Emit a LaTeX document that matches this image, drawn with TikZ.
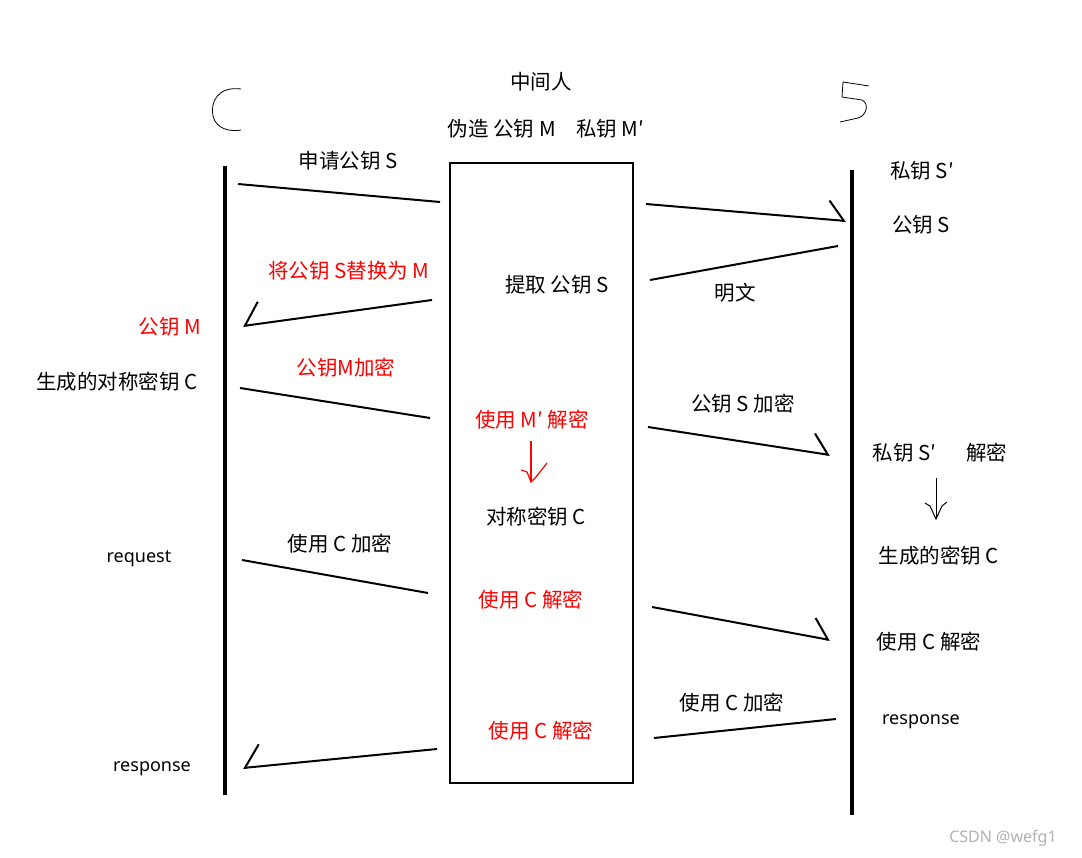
\documentclass[tikz,border=0pt]{standalone}
\usepackage{fontspec}
\setmainfont{Noto Sans CJK SC}
\newfontfamily\latinfont{Noto Sans}
\usetikzlibrary{arrows.meta}

\tikzset{
  lbl/.style={font=\fontsize{20.5}{24}\selectfont, inner sep=0pt},
  redlbl/.style={lbl, text=red},
  small/.style={font=\latinfont\fontsize{18}{21}\selectfont, inner sep=0pt},
  msg/.style={line width=2pt},
  msgto/.style={msg, -{Straight Barb[harpoon,length=16pt,width=38pt,line width=2pt]}},
  msgback/.style={msg, -{Straight Barb[harpoon,swap,length=16pt,width=44pt,line width=2pt]}},
  life/.style={line width=4.5pt},
}

\begin{document}
\begin{tikzpicture}[x=1pt, y=-1pt]
    \useasboundingbox (0,0) rectangle (1082,858);
    \fill[white] (0,0) rectangle (1082,858);

    % --- hand-drawn party letters ---
    \draw[line width=0.8pt] (241,89) .. controls (218,86) and (210,102) .. (213,116)
        .. controls (216,129) and (230,132) .. (241,130);
    \draw[line width=0.8pt] (869,86) -- (843,82) -- (842,97) -- (862,100)
        .. controls (870,104) and (866,116) .. (858,118) -- (840,122);

    % --- lifelines ---
    \draw[life] (225,166) coordinate (ctop) -- (225,795) coordinate (cbot);
    \draw[life] (852,170) coordinate (stop) -- (852,815) coordinate (sbot);

    % --- middle man box ---
    \node[draw, line width=2.5pt, minimum width=183pt, minimum height=620pt,
          inner sep=0pt] (mitm) at (541.5,473) {};
    \node[lbl] (mtitle) at (541,82) {中间人};
    \node[lbl] (mkeys) at (546,129) {伪造\ 公钥 M\quad 私钥 M′};

    % --- request the public key ---
    \node[lbl] (ask) at (348,161) {申请公钥 S};
    \coordinate (a1) at (238,184);
    \coordinate (a2) at (440,202);
    \draw[msg] (a1) -- (a2);
    \coordinate (b1) at (646,204);
    \coordinate (b2) at (846,221);
    \draw[msgto] (b1) -- (b2);
    \node[lbl] (sprv) at (922,171) {私钥 S′};
    \node[lbl] (spub) at (921,225) {公钥 S};

    % --- server answers, key gets swapped ---
    \coordinate (d1) at (838,246);
    \coordinate (d2) at (650,280);
    \draw[msg] (d1) -- (d2);
    \node[lbl] (take) at (557,285) {提取\ 公钥 S};
    \node[lbl] (plain) at (735,293) {明文};
    \node[redlbl] (swap) at (349,271) {将公钥 S替换为 M};
    \coordinate (e1) at (432,300);
    \coordinate (e2) at (243,326);
    \draw[msgback] (e1) -- (e2);
    \node[redlbl] (cpub) at (170,327) {公钥 M};

    % --- client sends the session key ---
    \node[redlbl] (encm) at (346,368) {公钥M加密};
    \node[lbl] (gen) at (117,382) {生成的对称密钥 C};
    \coordinate (f1) at (240,388);
    \coordinate (f2) at (430,418);
    \draw[msg] (f1) -- (f2);
    \node[redlbl] (decm) at (532,420) {使用 M′ 解密};
    \node[lbl] (symk) at (536,517) {对称密钥 C};
    \draw[red, line width=1.2pt] (531,441) coordinate (r1) -- (531,482) coordinate (r2);
    \draw[red, line width=1.2pt] (521,470) -- (527,472) -- (531,482) -- (536,477) -- (547,463);
    \node[lbl] (encs) at (743,404) {公钥 S 加密};
    \coordinate (g1) at (648,427);
    \coordinate (g2) at (830,455);
    \draw[msgto] (g1) -- (g2);
    \node[lbl] (decs) at (940,453) {私钥 S′\quad\ \ 解密};
    \draw[line width=1pt] (936,478) coordinate (k1) -- (936,519) coordinate (k2);
    \draw[line width=1pt] (925,503) -- (930,506) -- (936,519) -- (942,506) -- (947,502);
    \node[lbl] (sgen) at (939,556) {生成的密钥 C};

    % --- request ---
    \node[small] (req) at (139,559) {request};
    \node[lbl] (encc) at (340,544) {使用 C 加密};
    \coordinate (h1) at (242,560);
    \coordinate (h2) at (428,593);
    \draw[msg] (h1) -- (h2);
    \node[redlbl] (decc) at (531,600) {使用 C 解密};
    \coordinate (i1) at (652,607);
    \coordinate (i2) at (830,640);
    \draw[msgto] (i1) -- (i2);
    \node[lbl] (sdec) at (929,642) {使用 C 解密};

    % --- response ---
    \node[lbl] (senc) at (732,703) {使用 C 加密};
    \node[small] (sresp) at (921,722) {response};
    \coordinate (j1) at (836,719);
    \coordinate (j2) at (654,738);
    \draw[msg] (j1) -- (j2);
    \node[redlbl] (mdec) at (541,731) {使用 C 解密};
    \coordinate (l1) at (437,749);
    \coordinate (l2) at (243,768);
    \draw[msgback] (l1) -- (l2);
    \node[small] (cresp) at (152,769) {response};

    % watermark
    \node[font=\latinfont\fontsize{16}{19}\selectfont, text=gray!60, inner sep=0pt] (wm) at (1003,838) {CSDN @wefg1};
\end{tikzpicture}
\end{document}
